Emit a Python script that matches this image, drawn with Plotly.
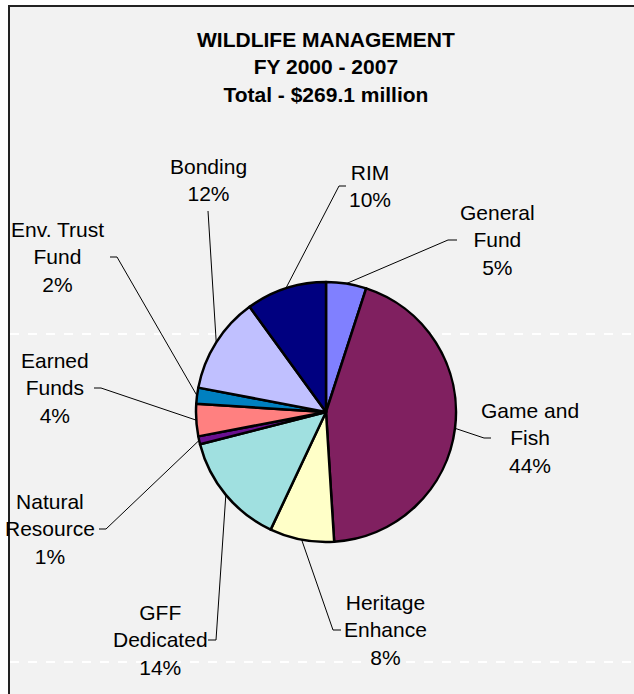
import math
import plotly.graph_objects as go

# ---- data ----
categories = ["General Fund", "Game and Fish", "Heritage Enhance", "GFF Dedicated",
              "Natural Resource", "Earned Funds", "Env. Trust Fund", "Bonding", "RIM"]
label_lines = ["General<br>Fund", "Game and<br>Fish", "Heritage<br>Enhance", "GFF<br>Dedicated",
               "Natural<br>Resource", "Earned<br>Funds", "Env. Trust<br>Fund", "Bonding", "RIM"]
shares = [5, 44, 8, 14, 1, 4, 2, 12, 10]
colors = ["#8080FF", "#802060", "#FFFFC8", "#A0E0E0", "#6A1090", "#FF8080", "#0080C0", "#C0C0FF", "#000080"]
title_lines = ["WILDLIFE MANAGEMENT", "FY 2000 - 2007", "Total - $269.1 million"]

# ---- layout constants (pixels) ----
W, H = 634, 694
CX, CY, R = 326, 412, 130
FONT = "Liberation Sans, Arial, sans-serif"

# label text centre, elbow point, tick end
label_pos = {
    "General Fund": ((497, 240), (448, 240), (457, 240)),
    "Game and Fish": ((530, 438), (484, 438), (491, 438)),
    "Heritage Enhance": ((385, 630), (333, 630), (341, 630)),
    "GFF Dedicated": ((160, 640), (216, 640), (208, 640)),
    "Natural Resource": ((50, 529), (106, 529), (99, 529)),
    "Earned Funds": ((55, 388), (101, 388), (94, 388)),
    "Env. Trust Fund": ((57, 257), (117, 257), (110, 257)),
    "Bonding": ((208, 180), (208, 211), (208, 211)),
    "RIM": ((370, 186), (339, 186), (346, 186)),
}


def px(x):
    return x / W


def py(y):
    return 1 - y / H


fig = go.Figure()
fig.add_trace(go.Pie(
    labels=categories, values=shares, sort=False, direction="clockwise", rotation=0,
    marker=dict(colors=colors, line=dict(color="#000000", width=2.5)),
    textinfo="none", hoverinfo="label+percent", showlegend=False,
    domain=dict(x=[px(CX - R), px(CX + R)], y=[py(CY + R), py(CY - R)]),
))

total = sum(shares)
shapes = []
annotations = []
cum = 0
for cat, txt, v in zip(categories, label_lines, shares):
    mid = (cum + v / 2) / total * 2 * math.pi
    cum += v
    ex = CX + R * math.sin(mid)
    ey = CY - R * math.cos(mid)
    (tx, ty), (elx, ely), (tex, tey) = label_pos[cat]
    shapes.append(dict(type="path", xref="paper", yref="paper",
                       path=f"M {px(tex)},{py(tey)} L {px(elx)},{py(ely)} L {px(ex)},{py(ey)}",
                       line=dict(color="#000000", width=1)))
    pct = f"{round(v / total * 100)}%"
    annotations.append(dict(x=px(tx), y=py(ty), xref="paper", yref="paper",
                            text=f"{txt}<br>{pct}", showarrow=False,
                            xanchor="center", yanchor="middle",
                            font=dict(family=FONT, size=21, color="#000000")))

annotations.append(dict(x=px(326), y=py(67), xref="paper", yref="paper",
                        text="<b>" + "<br>".join(title_lines) + "</b>", showarrow=False,
                        xanchor="center", yanchor="middle",
                        font=dict(family=FONT, size=21, color="#000000")))

# background dashed lines and frame
for yl in (334, 662):
    shapes.insert(0, dict(type="line", xref="paper", yref="paper", layer="below",
                          x0=px(10), x1=1, y0=py(yl), y1=py(yl),
                          line=dict(color="#FFFFFF", width=2, dash="dash")))
shapes.append(dict(type="line", xref="paper", yref="paper", x0=px(9), x1=px(9), y0=py(6), y1=0,
                   line=dict(color="#222222", width=2)))
shapes.append(dict(type="line", xref="paper", yref="paper", x0=px(8), x1=1, y0=py(6), y1=py(6),
                   line=dict(color="#222222", width=2)))
# white strip outside the frame
shapes.insert(0, dict(type="rect", xref="paper", yref="paper", layer="below",
                      x0=0, x1=px(8), y0=0, y1=1, line=dict(width=0), fillcolor="#FFFFFF"))
shapes.insert(0, dict(type="rect", xref="paper", yref="paper", layer="below",
                      x0=0, x1=1, y0=py(5), y1=1, line=dict(width=0), fillcolor="#FFFFFF"))

fig.update_layout(
    width=W, height=H, margin=dict(l=0, r=0, t=0, b=0),
    paper_bgcolor="#F2F2F2", plot_bgcolor="#F2F2F2",
    shapes=shapes, annotations=annotations,
)
fig.write_html("out.html", config={"displayModeBar": False},
               post_script="document.body.style.margin='0';document.body.style.overflow='hidden';")
